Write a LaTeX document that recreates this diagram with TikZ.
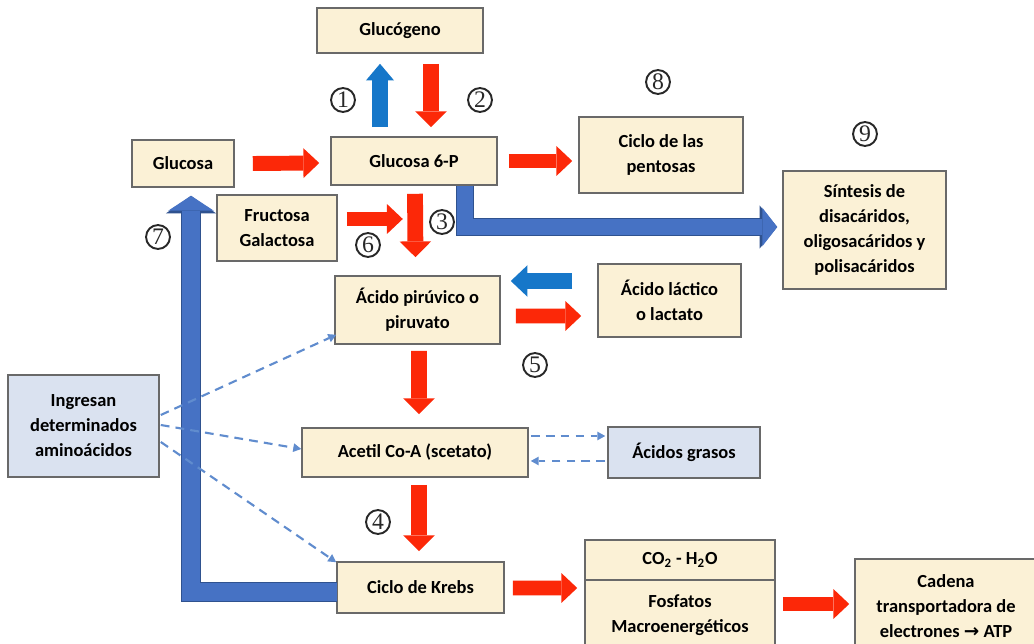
\documentclass[tikz,border=0pt]{standalone}
\usepackage{fontspec}
\setmainfont{Carlito}
\newfontfamily\symfont{DejaVu Sans}
\newfontfamily\digitfont{Liberation Serif}
\usetikzlibrary{arrows.meta,calc}

\definecolor{boxfill}{RGB}{251,241,214}
\definecolor{boxedge}{RGB}{105,105,105}
\definecolor{aminofill}{RGB}{218,226,240}
\definecolor{arrred}{RGB}{252,40,8}
\definecolor{arrblue}{RGB}{22,119,201}
\definecolor{steelfill}{RGB}{70,114,196}
\definecolor{steeledge}{RGB}{47,82,143}
\definecolor{dashblue}{RGB}{96,140,206}
\definecolor{numink}{RGB}{40,40,40}

\begin{document}
\begin{tikzpicture}[x=0.02cm,y=-0.02cm,
  box/.style={draw=boxedge, fill=boxfill, line width=0.9pt, inner sep=0pt,
    align=center, font=\fontsize{10.5}{14.2}\selectfont\bfseries},
  aminobox/.style={box, fill=aminofill},
  sz/.style 2 args={minimum width=#1*0.02cm, minimum height=#2*0.02cm},
  num/.style={circle, draw=numink, text=numink, line width=1.1pt, inner sep=0pt,
    minimum size=13.6pt, font=\digitfont\fontsize{13.5}{13.5}\selectfont},
  redh/.style={draw=arrred, line width=8.5pt,
    -{Triangle[length=9pt,width=17pt,line width=0pt]}},
  redv/.style={draw=arrred, line width=9pt,
    -{Triangle[length=9pt,width=18pt,line width=0pt]}},
  blueup/.style={draw=arrblue, line width=9pt,
    -{Triangle[length=9.5pt,width=16pt,line width=0pt]}},
  blueleft/.style={draw=arrblue, line width=9pt,
    -{Triangle[length=9.5pt,width=18pt,line width=0pt]}},
  steelseven/.style={preaction={draw=steeledge, line width=11.8pt,
      -{Triangle[length=10pt,width=28.5pt,line width=0pt]}},
    draw=steelfill, line width=10.2pt, line join=miter,
    -{Triangle[length=8.5pt,width=26pt,line width=0pt]}},
  steelnine/.style={preaction={draw=steeledge, line width=10.6pt,
      -{Triangle[length=10pt,width=24.5pt,line width=0pt]}},
    draw=steelfill, line width=9pt, line join=miter,
    -{Triangle[length=8.5pt,width=22pt,line width=0pt]}},
  dasharr/.style={draw=dashblue, line width=1.2pt, dash pattern=on 5pt off 3.5pt,
    -{Triangle[length=4.5pt,width=5pt,line width=0pt]}}
]
\useasboundingbox (0,0) rectangle (1034,644);
\clip (0,0) rectangle (1034,644);
\fill[white] (0,0) rectangle (1034,644);

% boxes
\node[box, sz={166}{45}] (glucogeno) at (400,30.5) {Glucógeno};
\node[box, sz={102}{47}] (glucosa) at (183,163.5) {Glucosa};
\node[box, sz={166}{48}] (g6p) at (414,161) {Glucosa 6-P};
\node[box, sz={120}{66}] (fructosa) at (277,228) {Fructosa\\Galactosa};
\node[box, sz={164}{76}] (pentosas) at (661,155) {Ciclo de las\\pentosas};
\node[box, sz={163}{118}] (sintesis) at (864.5,230)
  {Síntesis de\\disacáridos,\\oligosacáridos y\\polisacáridos};
\node[box, sz={165}{68}] (piruvico) at (417.5,310) {Ácido pirúvico o\\piruvato};
\node[box, sz={143}{73}] (lactico) at (669.5,300.5) {Ácido láctico\\o lactato};
\node[aminobox, sz={151}{102}] (amino) at (83.5,426) {Ingresan\\determinados\\aminoácidos};
\node[box, sz={226}{49}] (acetil) at (415,452.5) {Acetil Co-A (scetato)};
\node[aminobox, sz={152}{51}] (grasos) at (684,452.5) {Ácidos grasos};
\node[box, sz={167}{51}] (krebs) at (420.5,587.5) {Ciclo de Krebs};
\node[box, sz={190}{40}] (co2) at (680,560) {CO\textsubscript{2} - H\textsubscript{2}O};
\node[box, sz={190}{71}] (fosfatos) at (680,615.5) {Fosfatos\\Macroenergéticos};
\node[box, sz={182}{94}] (cadena) at (946,606)
  {Cadena\\transportadora de\\electrones {\symfont\bfseries →} ATP};

% step numbers
\node[num] (n1) at (343,100) {1};
\node[num] (n2) at (480,100) {2};
\node[num] (n3) at (442,222) {3};
\node[num] (n4) at (378,522) {4};
\node[num] (n5) at (535,365) {5};
\node[num] (n6) at (368,245) {6};
\node[num] (n7) at (158,237) {7};
\node[num] (n8) at (658,82) {8};
\node[num] (n9) at (865,134) {9};

% glycogen exchange
\draw[blueup] ($(g6p.north)+(-34,-9)$) -- ($(glucogeno.south)+(-20,10)$);
\draw[redv] ($(glucogeno.south)+(31,10)$) -- ($(g6p.north)+(17,-9)$);

% main forward flow
\draw[redh] ($(glucosa.east)+(18,0)$) -- ($(g6p.west)+(-11,2)$);
\draw[redh] ($(g6p.east)+(11,0)$) -- ($(pentosas.west)+(-6,6)$);
\draw[redh] ($(fructosa.east)+(9,-9)$) -- ($(fructosa.east)+(65,-9)$);
\draw[redv] ($(g6p.south)+(1,8)$) -- ($(piruvico.north)+(-2,-18)$);
\draw[steelnine] ($(g6p.south)+(51,0)$) |- ($(sintesis.west)+(-5,-3)$);
\draw[blueleft] ($(lactico.west)+(-25,-19.5)$) -- ($(piruvico.east)+(10,-29)$);
\draw[redh] ($(piruvico.east)+(15,6)$) -- ($(lactico.west)+(-16,15.5)$);
\draw[redv] ($(piruvico.south)+(1.5,6)$) -- ($(acetil.north)+(4,-13)$);
\draw[redv] ($(acetil.south)+(4,7)$) -- ($(krebs.north)+(-1.5,-10)$);
\draw[redh] ($(krebs.east)+(8,0.5)$) -- ($(co2.west)+(-7,28)$);
\draw[redh] ($(fosfatos.east)+(7,-11.5)$) -- ($(cadena.west)+(-5,-2)$);
\draw[steelseven] ($(krebs.west)+(1,4.5)$) -| ($(glucosa.south)+(8,8)$);

% amino acid and fatty acid entries
\draw[dasharr] ($(amino.east)+(1,-11)$) -- ($(piruvico.south west)+(2,-10)$);
\draw[dasharr] ($(amino.east)+(1,-1)$) -- ($(acetil.west)+(0,-3.5)$);
\draw[dasharr] ($(amino.east)+(1,16)$) -- ($(krebs.north west)+(0,1)$);
\draw[dasharr] ($(acetil.east)+(2,-16.5)$) -- ($(grasos.west)+(-2,-16.5)$);
\draw[dasharr] ($(grasos.west)+(-2,8.5)$) -- ($(acetil.east)+(2,8.5)$);
\end{tikzpicture}
\end{document}
